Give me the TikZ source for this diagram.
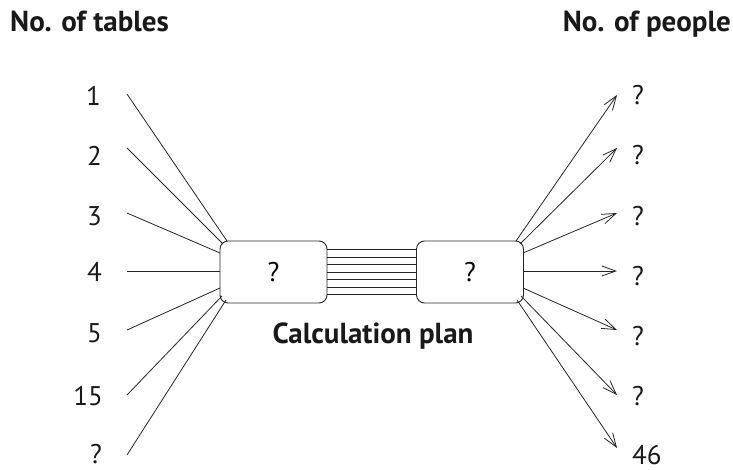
\documentclass[tikz,border=0pt]{standalone}
\usepackage{fontspec}
\setmainfont{PT Sans}
\usetikzlibrary{arrows.meta}
\begin{document}
\begin{tikzpicture}[x=1pt,y=-1pt,
  lbl/.style={font=\fontsize{27}{27}\selectfont, inner sep=0pt, text=black!90},
  head/.style={font=\bfseries\fontsize{29}{29}\selectfont, inner sep=0pt, text=black!90},
  box/.style={draw=black!85, line width=0.9pt, rounded corners=8pt, minimum width=107pt, minimum height=62pt, inner sep=0pt, font=\fontsize{27}{27}\selectfont},
  ln/.style={line width=0.8pt, draw=black!85},
  arr/.style={ln, -{Straight Barb[length=14pt,width=10pt,line width=0.8pt]}}]
\useasboundingbox (0,0) rectangle (733,469);
% headings
\node[head, anchor=base west] (ht) at (10,31) {No. of tables};
\node[head, anchor=base east] (hp) at (731,31) {No. of people};
% boxes
\node[box] (L) at (273.5,272) {?};
\node[box] (R) at (470,272) {?};
\node[head, anchor=base] (cp) at (373,343) {Calculation plan};
% parallel lines
\foreach \d in {-22.5,-15,-7.5,0,7.5,15,22.5}
  \draw[ln] ([yshift=\d pt]L.east) -- ([yshift=\d pt]R.west);
% left labels
\node[lbl, anchor=east] (a1) at (101,96) {1};
\node[lbl, anchor=east] (a2) at (102,156) {2};
\node[lbl, anchor=east] (a3) at (102,216) {3};
\node[lbl, anchor=east] (a4) at (102,272) {4};
\node[lbl, anchor=east] (a5) at (102,333) {5};
\node[lbl, anchor=east] (a6) at (103,396) {15};
\node[lbl, anchor=east] (a7) at (102,454) {?};
% left line starts
\coordinate (s1) at (127,94);
\coordinate (s2) at (127,148);
\coordinate (s3) at (127,213);
\coordinate (s4) at (127,271);
\coordinate (s5) at (127,330);
\coordinate (s6) at (127,395);
\coordinate (s7) at (127,455);
% left box ends
\coordinate (e1) at (227,241);
\coordinate (e2) at (223,244);
\coordinate (e3) at (220,253);
\coordinate (e4) at (220,271);
\coordinate (e5) at (220,288);
\coordinate (e6) at (222,296);
\coordinate (e7) at (226,300);
\foreach \i in {1,...,7} \draw[ln] (s\i) -- (e\i);
% right box starts
\coordinate (r1) at (516,241);
\coordinate (r2) at (520,244);
\coordinate (r3) at (523,253);
\coordinate (r4) at (523,271);
\coordinate (r5) at (523,288);
\coordinate (r6) at (521,296);
\coordinate (r7) at (517,300);
% arrow tips
\coordinate (t1) at (617,95);
\coordinate (t2) at (617,148);
\coordinate (t3) at (617,213);
\coordinate (t4) at (617,271);
\coordinate (t5) at (617,330);
\coordinate (t6) at (617,395);
\coordinate (t7) at (617,448);
\foreach \i in {1,...,7} \draw[arr] (r\i) -- (t\i);
% right labels
\node[lbl, anchor=west] (b1) at (632,95) {?};
\node[lbl, anchor=west] (b2) at (632,155) {?};
\node[lbl, anchor=west] (b3) at (632,216) {?};
\node[lbl, anchor=west] (b4) at (632,276) {?};
\node[lbl, anchor=west] (b5) at (632,336) {?};
\node[lbl, anchor=west] (b6) at (632,396) {?};
\node[lbl, anchor=west] (b7) at (632,455) {46};
\end{tikzpicture}
\end{document}
